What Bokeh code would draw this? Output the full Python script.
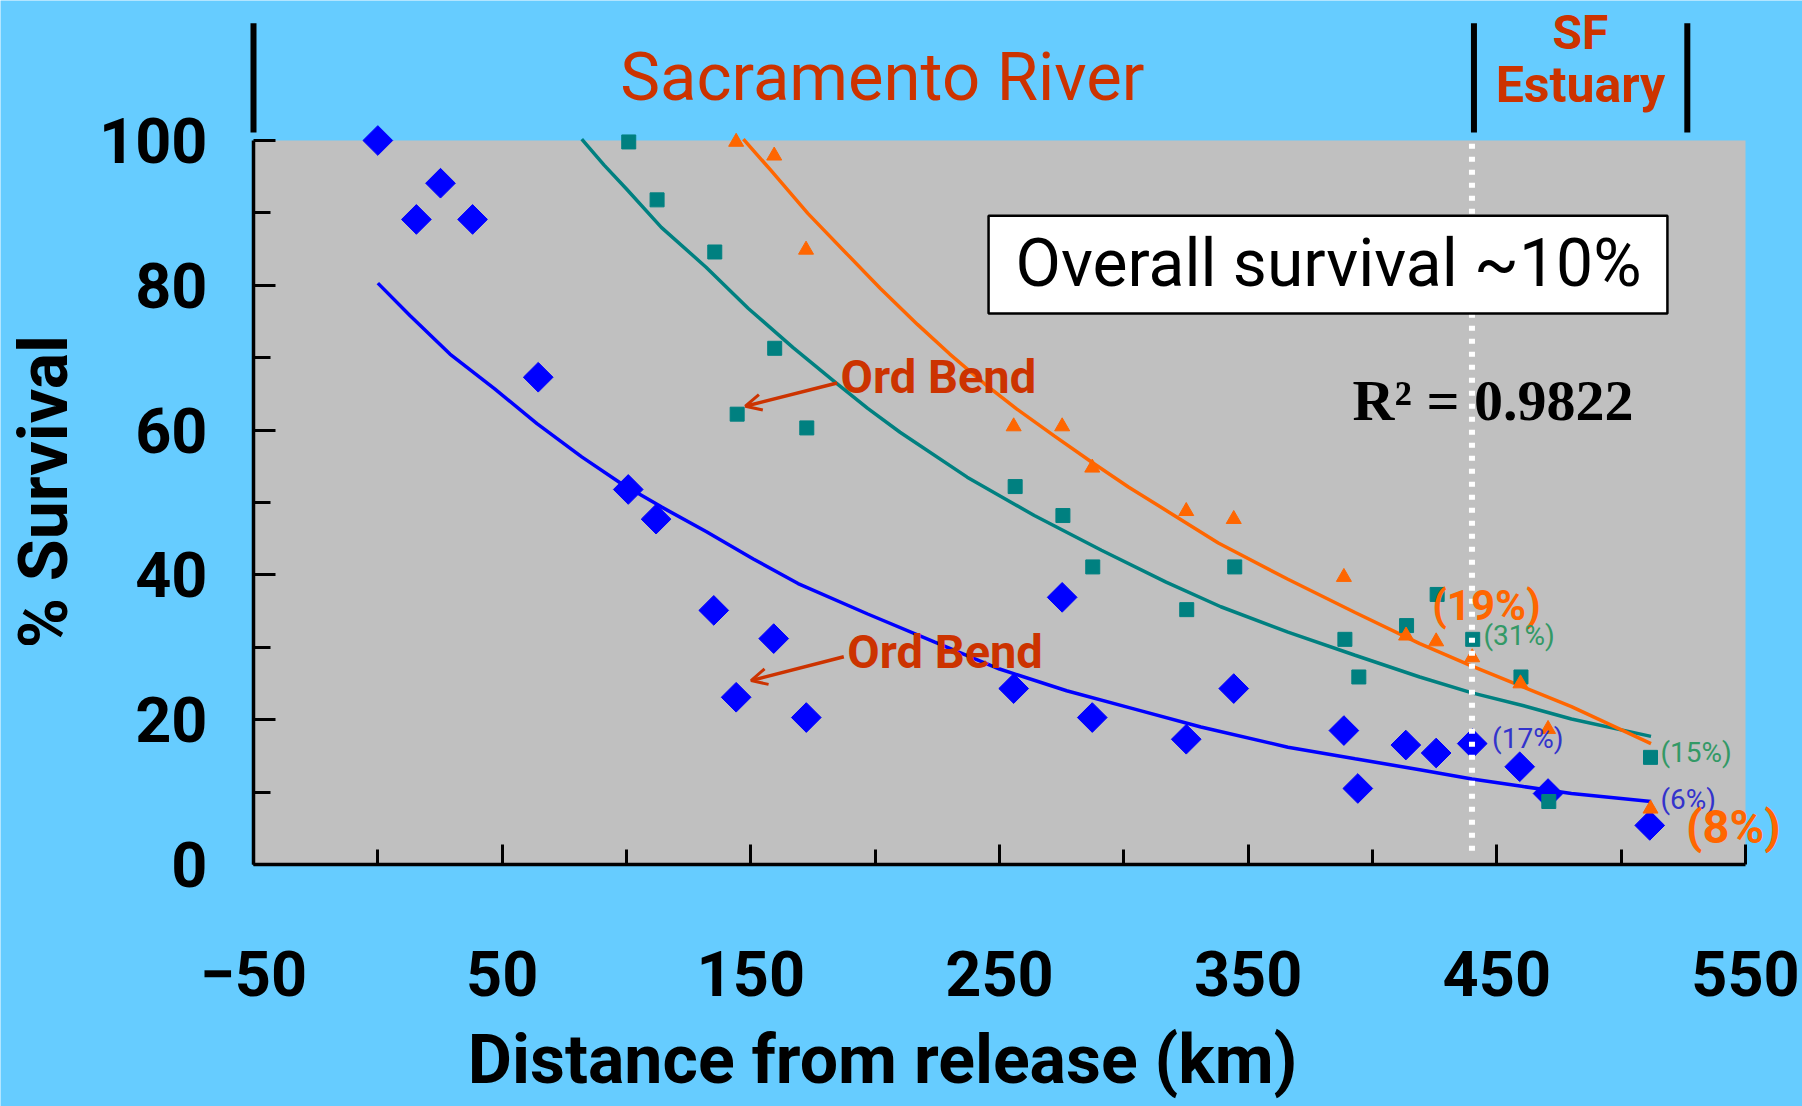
import math
from bokeh.plotting import figure
from bokeh.models import FixedTicker, Label, BoxAnnotation, Arrow, OpenHead, LinearAxis
from bokeh.embed import file_html
from bokeh.resources import INLINE

# ---------------- data ----------------
blue_x = [0, 15.5, 25.2, 38.1, 64.5, 100.7, 111.9, 135.1, 144.1, 159.2, 172.3, 255.7,
          275.2, 287.3, 325.1, 344.2, 388.5, 394.1, 413.4, 425.6, 440.1, 459.2, 470.6, 511.5]
blue_y = [100, 89.1, 94.1, 89.1, 67.3, 51.8, 47.7, 35.1, 23.1, 31.2, 20.3, 24.3,
          36.9, 20.3, 17.3, 24.3, 18.5, 10.5, 16.5, 15.4, 16.7, 13.5, 9.8, 5.4]

teal_x = [100.9, 112.3, 135.5, 144.5, 159.6, 172.5, 256.3, 275.5, 287.5, 325.3, 344.6,
          388.9, 394.5, 413.7, 426.0, 440.3, 459.7, 470.9, 511.8]
teal_y = [99.8, 91.8, 84.6, 62.2, 71.3, 60.3, 52.2, 48.2, 41.1, 35.2, 41.1,
          31.1, 25.9, 33.0, 37.3, 31.1, 25.9, 8.7, 14.8]

orange_x = [144.1, 159.4, 172.2, 255.7, 275.2, 287.3, 325.1, 344.2, 388.5, 413.5,
            425.6, 440.1, 459.5, 470.6, 511.8]
orange_y = [99.8, 97.9, 84.9, 60.5, 60.5, 54.8, 48.8, 47.7, 39.7, 31.6,
            30.8, 28.6, 25.0, 18.7, 7.7]

# trend lines
blue_fit_x = [0, 13, 29, 47, 64, 82, 98, 114, 132, 151, 169, 197, 224, 250, 277, 304, 331,
              366, 393, 419, 440, 460, 480, 512]
blue_fit_y = [80.3, 75.8, 70.5, 65.7, 60.9, 56.3, 52.6, 49.4, 46.0, 42.2, 38.8, 34.6, 30.7,
              27.0, 24.0, 21.5, 19.0, 16.2, 14.6, 13.1, 11.8, 10.8, 9.8, 8.7]
teal_fit_x = [82, 91, 100, 114, 132, 149, 167, 184, 197, 210, 237, 264, 291, 317, 339, 366,
              393, 419, 440, 460, 480, 512]
teal_fit_y = [100.2, 96.6, 93.3, 88.0, 82.5, 76.8, 71.4, 66.6, 63.0, 59.7, 53.5, 48.2, 43.4,
              39.0, 35.6, 32.1, 28.9, 25.9, 23.7, 22.0, 20.1, 17.7]
orange_fit_x = [147, 158, 173, 189, 202, 217, 230, 244, 257, 272, 287, 302, 318, 338, 366,
                393, 419, 440, 460, 480, 512]
orange_fit_y = [100.2, 95.9, 89.9, 84.2, 79.6, 74.6, 70.5, 66.4, 62.9, 59.2, 55.6, 52.1,
                48.7, 44.4, 39.4, 34.8, 30.5, 27.4, 24.6, 21.8, 16.7]

x_ticks = [-50, 50, 150, 250, 350, 450, 550]
x_minor = [0, 100, 200, 300, 400, 500]
y_ticks = [0, 20, 40, 60, 80, 100]
y_minor = [10, 30, 50, 70, 90]

region_bars_x = [-50, 440.8, 526.6]
estuary_km = 440

# ---------------- styles ----------------
SKY = "#66CCFF"
GRAY = "#C0C0C0"
BLUE = "#0000FF"
TEAL = "#008080"
ORANGE = "#FF6600"
RED = "#CC3300"
GREEN = "#339966"
PURPLE = "#3333CC"
FONT = "Roboto"

W, H = 1802, 1106
left_px, top_px, bottom_px = 253, 140, 864      # pixel positions of x=-50, y=100, y=0
px_per_x = 1492 / 600.0
px_per_y = 724 / 100.0
x_start = -50 - left_px / px_per_x
x_end = -50 + (W - left_px) / px_per_x
y_start = -(H - bottom_px) / px_per_y
y_end = bottom_px / px_per_y

p = figure(width=W, height=H, x_range=(x_start, x_end), y_range=(y_start, y_end),
           output_backend="svg", toolbar_location=None,
           x_axis_location=None, y_axis_location=None,
           min_border=0, min_border_left=0, min_border_right=0,
           min_border_top=0, min_border_bottom=0)
p.background_fill_color = SKY
p.border_fill_color = SKY
p.outline_line_color = None
p.grid.visible = False

# gray plot area
p.add_layout(BoxAnnotation(left=-50, right=550, bottom=0, top=100, fill_color=GRAY,
                           fill_alpha=1, line_alpha=0, level="underlay"))

# axes, fixed at x=-50 and y=0
xa = LinearAxis(fixed_location=0, bounds=(-50, 550),
                ticker=FixedTicker(ticks=x_ticks, minor_ticks=x_minor))
ya = LinearAxis(fixed_location=-50, bounds=(0, 100),
                ticker=FixedTicker(ticks=y_ticks, minor_ticks=y_minor))
for ax in (xa, ya):
    ax.axis_line_color = "black"
    ax.axis_line_width = 3.5
    ax.major_tick_line_color = "black"
    ax.major_tick_line_width = 3
    ax.minor_tick_line_color = "black"
    ax.minor_tick_line_width = 3
    ax.major_tick_out = 0
    ax.minor_tick_out = 0
    ax.major_label_text_font = FONT
    ax.major_label_text_font_style = "bold"
    ax.major_label_text_font_size = "63px"
    ax.major_label_text_color = "black"
xa.major_tick_in = 20
xa.minor_tick_in = 15
ya.major_tick_in = 22
ya.minor_tick_in = 17
xa.major_label_standoff = 86
ya.major_label_standoff = 46
p.add_layout(xa, "below")
p.add_layout(ya, "left")

# trend lines
p.line(blue_fit_x, blue_fit_y, line_color=BLUE, line_width=3.5)
p.line(teal_fit_x, teal_fit_y, line_color=TEAL, line_width=3.5)
p.line(orange_fit_x, orange_fit_y, line_color=ORANGE, line_width=3.5)

# markers
p.scatter(blue_x, blue_y, marker="square", size=21, angle=math.pi / 4,
          fill_color=BLUE, line_color=BLUE)
p.scatter(teal_x, teal_y, marker="square", size=14, fill_color=TEAL, line_color=TEAL)
p.scatter(orange_x, orange_y, marker="triangle", size=15, fill_color=ORANGE,
          line_color=ORANGE)

# white dotted boundary line at the estuary
p.line([estuary_km, estuary_km], [1.9, 100], line_color="white", line_width=6,
       line_dash="5 8")

# region bars above the plot
for bx in region_bars_x:
    p.add_layout(Arrow(end=None, x_start=bx, y_start=101.1, x_end=bx, y_end=116.2,
                       line_color="black", line_width=6))

# box with overall survival
p.add_layout(BoxAnnotation(left=245.6, right=518.6, bottom=76.1, top=89.6,
                           fill_color="white", fill_alpha=1, line_color="black",
                           line_alpha=1, line_width=2.5))

BASE_FIX = 0.37   # rendered alphabetic baseline sits this many em lower


def lab(x, y, text, size, color="black", style="normal", align="left",
        baseline="alphabetic", font=FONT, angle=0):
    if baseline == "alphabetic":
        y = y + BASE_FIX * size / px_per_y
    p.add_layout(Label(x=x, y=y, text=text, text_font=font, text_font_size=f"{size}px",
                       text_font_style=style, text_color=color, text_align=align,
                       text_baseline=baseline, angle=angle))


lab(382.3, 79.7, "Overall survival ~10%", 66, align="center")
lab(392, 61.1, "R\u00b2 = 0.9822", 58, style="bold", font="Liberation Serif")

lab(202.9, 105.3, "Sacramento River", 67, color=RED, align="center")
lab(483.6, 112.4, "SF", 48, color=RED, style="bold", align="center")
lab(483.6, 105.1, "Estuary", 50, color=RED, style="bold", align="center")

# Ord Bend annotations
lab(186.1, 65.0, "Ord Bend", 47, color=RED, style="bold")
lab(188.8, 27.0, "Ord Bend", 47, color=RED, style="bold")
p.add_layout(Arrow(end=OpenHead(size=16, line_color=RED, line_width=3),
                   x_start=184.7, y_start=66.5, x_end=147.8, y_end=63.3,
                   line_color=RED, line_width=3.5))
p.add_layout(Arrow(end=OpenHead(size=16, line_color=RED, line_width=3),
                   x_start=187.4, y_start=28.7, x_end=150.1, y_end=25.4,
                   line_color=RED, line_width=3.5))

# survival percentages
lab(424.0, 33.6, "(19%)", 42, color=ORANGE, style="bold")
lab(444.6, 30.2, "(31%)", 28, color=GREEN)
lab(448.1, 16.0, "(17%)", 28, color=PURPLE)
lab(515.8, 14.1, "(15%)", 28, color=GREEN)
lab(515.8, 7.5, "(6%)", 28, color=PURPLE)
lab(526.1, 2.9, "(8%)", 47, color=ORANGE, style="bold")

# axis titles
lab(203, -30.5, "Distance from release (km)", 68, style="bold", align="center")
lab(-134.4, 51.5, "% Survival", 68, style="bold", align="center",
    baseline="middle", angle=math.pi / 2)

open("out.html", "w").write(file_html(p, INLINE))
